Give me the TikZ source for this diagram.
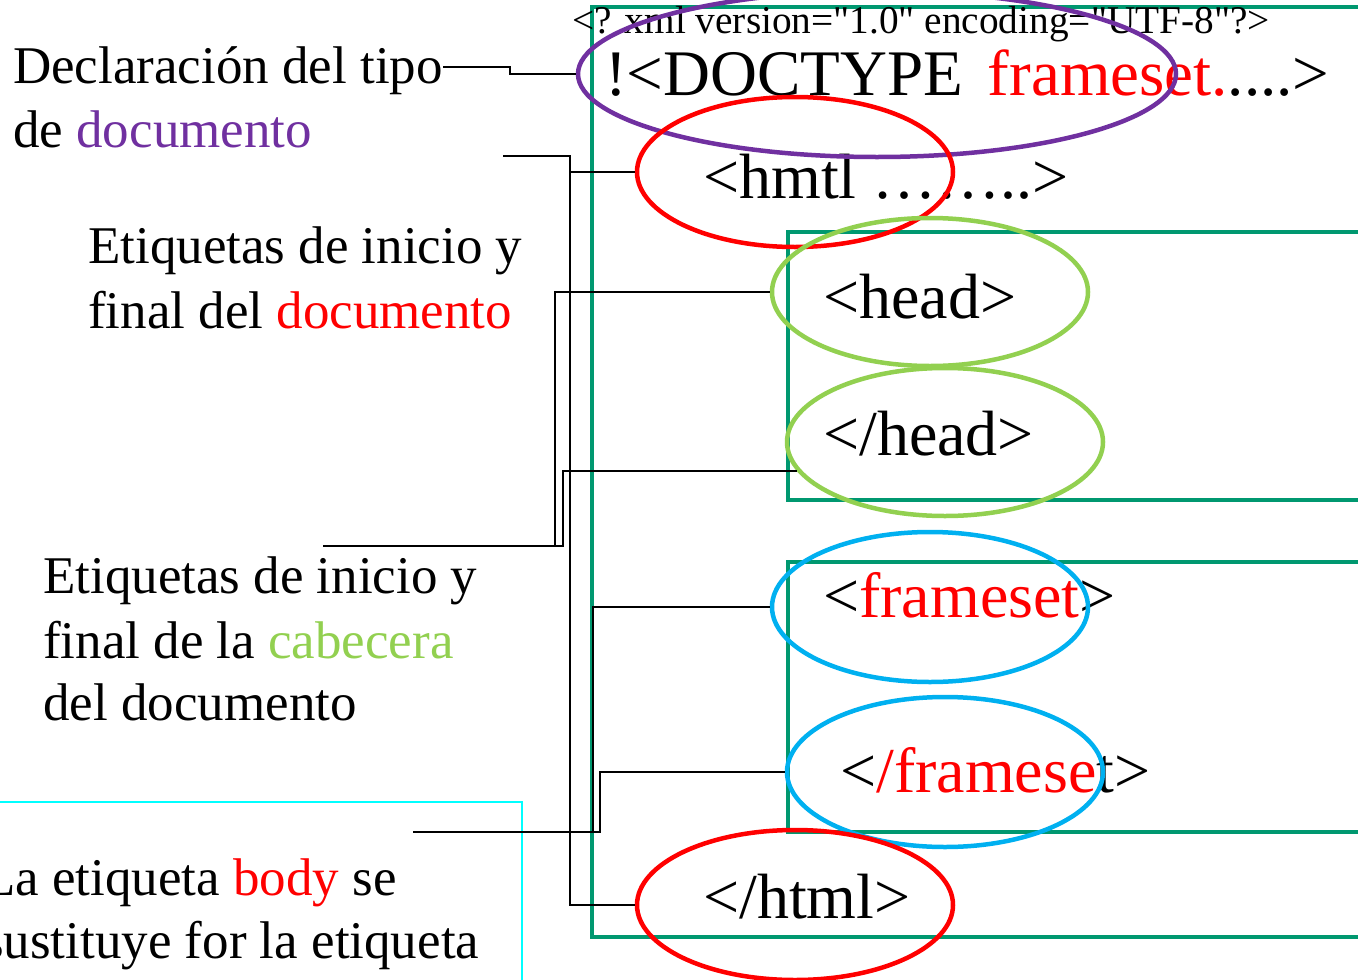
\documentclass[tikz,border=0pt]{standalone}
\usepackage{fontspec}
\setmainfont{Liberation Serif}
\newfontfamily\xmlfont[Ligatures=TeXOff]{Liberation Serif}
\usetikzlibrary{shapes.geometric}

\definecolor{boxgreen}{RGB}{0,152,112}
\definecolor{docpurple}{RGB}{112,48,160}
\definecolor{headgreen}{RGB}{146,208,80}
\definecolor{setblue}{RGB}{0,176,240}
\definecolor{notecyan}{RGB}{0,255,255}

\tikzset{
  txt/.style={anchor=base west, inner sep=0pt, font=\fontsize{53}{64}\selectfont},
  tag/.style={anchor=base west, inner sep=0pt, font=\fontsize{64}{76}\selectfont},
  ring/.style={ellipse, draw=#1, line width=4.5pt, minimum width=316pt, minimum height=150pt, inner sep=0pt},
  boxframe/.style={draw=boxgreen, line width=4pt},
  link/.style={draw=black, line width=1.8pt}
}

\begin{document}
\begin{tikzpicture}[x=1pt, y=-1pt]
\useasboundingbox (0,0) rectangle (1358,980);

% frames
\draw[boxframe] (592,7) rectangle (1380,937);
\draw[boxframe] (788,232) rectangle (1380,500);
\draw[boxframe] (788,562) rectangle (1380,832);
\draw[notecyan, line width=1.5pt] (-20,802) rectangle (522,1000);

% left labels
\node[txt] (tipo1) at (13,83) {Declaración del tipo};
\node[txt] (tipo2) at (13,147) {de {\color{docpurple}documento}};
\node[txt] (doc1) at (88,263) {Etiquetas de inicio y};
\node[txt] (doc2) at (88,328) {final del {\color{red}documento}};
\node[txt] (cab1) at (43,593) {Etiquetas de inicio y};
\node[txt] (cab2) at (43,658) {final de la {\color{headgreen}cabecera}};
\node[txt] (cab3) at (43,720) {del documento};
\node[txt] (body1) at (-17,895) {La etiqueta {\color{red}body} se};
\node[txt] (body2) at (-17,958) {sustituye for la etiqueta};

% tags
\node[tag, font=\xmlfont\fontsize{39.3}{46}\selectfont] (xml) at (572,33) {<? xml version="1.0" encoding="UTF-8"?>};
\node[tag, font=\fontsize{65}{76}\selectfont] (doctxt) at (605,95) {!<DOCTYPE\hspace{0.38em}{\color{red}frameset.}....>};
\node[tag] (htmltxt) at (703,198) {<hmtl ……..>};
\node[tag] (headtxt) at (823,318) {<head>};
\node[tag] (headctxt) at (823,455) {</head>};
\node[tag] (fstxt) at (823,617) {<{\color{red}frameset}>};
\node[tag] (fsctxt) at (840,792) {<{\color{red}/framese}t>};
\node[tag] (htmlctxt) at (703,918) {</html>};

% rings
\node[ring=docpurple, minimum width=598pt, minimum height=166pt] (doct) at (877,74) {};
\node[ring=red] (html) at (795,172) {};
\node[ring=headgreen, minimum height=148pt] (head) at (930,292) {};
\node[ring=headgreen, minimum height=148pt] (headc) at (945,442) {};
\node[ring=setblue] (fs) at (930,607) {};
\node[ring=setblue] (fsc) at (945,772) {};
\node[ring=red] (htmlc) at (795,905) {};

% connectors
\coordinate (d1) at (443,67);
\coordinate (d2) at (503,156);
\coordinate (d3) at (323,546);
\coordinate (d4) at (413,832);
\coordinate (b2) at (570,156);
\coordinate (b3) at (555,546);
\coordinate (b4) at (593,832);

\draw[link] (d1) -- (510,67) |- (doct.west);
\draw[link] (d2) -- (b2) |- (htmlc.west);
\draw[link] (b2 |- html.west) -- (html.west);
\draw[link] (d3) -- (b3) |- (head.west);
\draw[link] (b3) -- (563,546) |- (headc.191);
\draw[link] (d4) -- (b4) |- (fs.west);
\draw[link] (b4) -- (600,832) |- (fsc.west);
\end{tikzpicture}
\end{document}
